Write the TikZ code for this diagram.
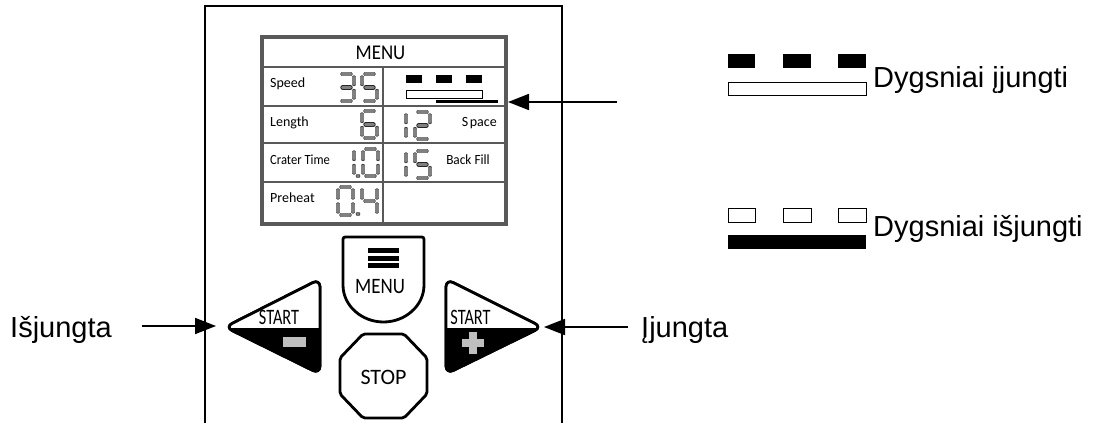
\documentclass[tikz,border=0pt]{standalone}
\usepackage{fontspec}
\usepackage{graphicx}
\usetikzlibrary{arrows.meta}
\newfontfamily\lcdfont{Carlito}
\newfontfamily\arialfont{Liberation Sans}

\tikzset{
  segline/.style={draw=black!85, line width=0.7pt, double=black!50, double distance=3.2pt, line cap=round},
  btn/.style={draw=black, line width=2.8pt, line join=round},
  arr/.style={line width=1.8pt, -{Triangle[length=21pt,width=16pt]}},
  lcdlbl/.style={inner sep=0pt, font={\lcdfont\fontsize{14}{16}\selectfont}},
  btnlbl/.style={inner sep=0pt, font={\lcdfont\fontsize{22}{24}\selectfont}},
  biglbl/.style={inner sep=0pt, anchor=base west, font={\arialfont\fontsize{29}{33}\selectfont}},
  grid/.style={draw=black!65, line width=1.4pt},
}

\newcommand\sevenseg[5]{%
  \pgfmathsetmacro\sxa{#1}\pgfmathsetmacro\sxb{#1+#3}%
  \pgfmathsetmacro\sya{#2}\pgfmathsetmacro\syb{#2+#4/2}\pgfmathsetmacro\syc{#2+#4}%
  \foreach \s in {#5}{\csname dseg\s\endcsname}}
\newcommand\dsega{\draw[segline] (\sxa+3.6,\sya) -- (\sxb-3.6,\sya);}
\newcommand\dsegb{\draw[segline] (\sxb,\sya+3.6) -- (\sxb,\syb-3.6);}
\newcommand\dsegc{\draw[segline] (\sxb,\syb+3.6) -- (\sxb,\syc-3.6);}
\newcommand\dsegd{\draw[segline] (\sxa+3.6,\syc) -- (\sxb-3.6,\syc);}
\newcommand\dsege{\draw[segline] (\sxa,\syb+3.6) -- (\sxa,\syc-3.6);}
\newcommand\dsegf{\draw[segline] (\sxa,\sya+3.6) -- (\sxa,\syb-3.6);}
\newcommand\dsegg{\draw[segline] (\sxa+3.6,\syb) -- (\sxb-3.6,\syb);}

\begin{document}
\begin{tikzpicture}[x=1pt,y=-1pt]
\useasboundingbox (0,0) rectangle (1096,423);
\fill[white] (0,0) rectangle (1096,423);

% device outline
\draw[line width=2.2pt] (205,430) -- (205,6) -- (562,6) -- (562,430);

% screen
\draw[grid] (262,67) -- (506,67);
\draw[grid] (262,106) -- (506,106);
\draw[grid] (262,143) -- (506,143);
\draw[grid] (262,182) -- (506,182);
\draw[grid] (383,67) -- (383,224);
\draw[draw=black!65, line width=3.5pt] (262,37) rectangle (506,224);

\node[lcdlbl, anchor=base, font={\lcdfont\fontsize{21}{23}\selectfont}] (hdr) at (380.5,59.5) {\scalebox{0.9}[1]{MENU}};
\node[lcdlbl, anchor=base west] (lspeed) at (270,87) {Speed};
\node[lcdlbl, anchor=base west] (llength) at (270,126) {Length};
\node[lcdlbl, anchor=base west] (lcrater) at (270,164) {\scalebox{0.9}[1]{Crater Time}};
\node[lcdlbl, anchor=base west] (lpreheat) at (270,202) {Preheat};
\node[lcdlbl, anchor=base east] (lspace) at (497,126) {S\kern1.5pt pace};
\node[lcdlbl, anchor=base east] (lback) at (490,164) {\scalebox{0.95}[1]{Back Fill}};

% digits
\sevenseg{339}{74}{15}{27}{a,b,g,c,d}
\sevenseg{362}{74}{15}{27}{a,f,g,c,d}
\sevenseg{362}{111}{15}{27}{a,f,g,e,c,d}
\sevenseg{354}{149}{0}{27}{b,c}
\sevenseg{363}{149}{15}{27}{a,b,c,d,e,f}
\draw[segline] (358,176) -- (358.01,176);
\sevenseg{338}{187}{15}{28}{a,b,c,d,e,f}
\sevenseg{362}{187}{15}{28}{f,g,b,c}
\draw[segline] (358,214) -- (358.01,214);
\sevenseg{406}{112}{0}{27}{b,c}
\sevenseg{415}{112}{15}{27}{a,b,g,e,d}
\sevenseg{406}{151}{0}{27}{b,c}
\sevenseg{415}{151}{15}{27}{a,f,g,c,d}

% stitch indicator in speed cell
\fill (406,75) rectangle (422,83);
\fill (436,75) rectangle (452,83);
\fill (466,75) rectangle (482,83);
\draw[line width=0.9pt] (406,90) rectangle (482,98);
\draw[line width=3pt] (436,101.5) -- (498,101.5);

% MENU button
\draw[btn] (343,285) -- (343,242) .. controls (343,237) .. (348,237) -- (419,237)
  .. controls (424,237) .. (424,242) -- (424,285)
  .. controls (424,306) and (405,322) .. (383.5,322)
  .. controls (362,322) and (343,306) .. (343,285) -- cycle;
\fill (368,248.3) rectangle (399,253.3);
\fill (368,255.8) rectangle (399,260.8);
\fill (368,263.3) rectangle (399,268.3);
\node[btnlbl, anchor=base] (bmenu) at (380,293) {\scalebox{0.86}[1]{MENU}};

% STOP button
\draw[btn, rounded corners=2pt] (363,334) -- (404,334) -- (427,358) -- (427,394) -- (404,418) -- (363,418) -- (340,394) -- (340,358) -- cycle;
\node[btnlbl, anchor=base] (bstop) at (383.5,384) {STOP};

% START - button (left)
\draw[btn, fill=black, rounded corners=8pt] (320,327) -- (320,279) -- (225,327) -- (320,374) -- cycle;
\begin{scope}
  \clip (200,250) rectangle (340,327);
  \fill[white, rounded corners=8pt] (320,327) -- (320,279) -- (225,327) -- (320,374) -- cycle;
\end{scope}
\draw[btn, rounded corners=8pt] (320,327) -- (320,279) -- (225,327) -- (320,374) -- cycle;
\node[btnlbl, anchor=base, font={\lcdfont\fontsize{22}{24}\selectfont}] (bstartl) at (279,324) {\scalebox{0.74}[1]{START}};
\fill[black!25] (283,337) rectangle (306,347);

% START + button (right)
\draw[btn, fill=black, rounded corners=8pt] (446,327) -- (446,279) -- (542,327) -- (446,374) -- cycle;
\begin{scope}
  \clip (420,250) rectangle (560,327);
  \fill[white, rounded corners=8pt] (446,327) -- (446,279) -- (542,327) -- (446,374) -- cycle;
\end{scope}
\draw[btn, rounded corners=8pt] (446,327) -- (446,279) -- (542,327) -- (446,374) -- cycle;
\node[btnlbl, anchor=base, font={\lcdfont\fontsize{22}{24}\selectfont}] (bstartr) at (470.5,324) {\scalebox{0.74}[1]{START}};
\fill[black!25] (462,339) rectangle (484,347);
\fill[black!25] (469,332) rectangle (477,354);

% legend
\fill (728,54) rectangle (755,68);
\fill (783,54) rectangle (811,68);
\fill (838,54) rectangle (866,68);
\draw[line width=1pt] (728,82) rectangle (866,95);
\node[biglbl] (lon) at (873,87) {Dygsniai įjungti};

\draw[line width=1pt] (728,208) rectangle (755,222);
\draw[line width=1pt] (783,208) rectangle (811,222);
\draw[line width=1pt] (838,208) rectangle (866,222);
\fill (728,235) rectangle (866,249);
\node[biglbl] (loff) at (873,236) {Dygsniai išjungti};

% side labels
\node[biglbl] (lblOff) at (10,337) {Išjungta};
\node[biglbl] (lblOn) at (641,337) {Įjungta};

% arrows
\coordinate (spdTail) at (617,102);
\coordinate (spdTip) at (508,102);
\draw[arr] (spdTail) -- (spdTip);
\coordinate (offTail) at (142,326);
\coordinate (offTip) at (216,326);
\draw[arr] (offTail) -- (offTip);
\coordinate (onTail) at (628,327);
\coordinate (onTip) at (544,327);
\draw[arr] (onTail) -- (onTip);
\end{tikzpicture}
\end{document}
